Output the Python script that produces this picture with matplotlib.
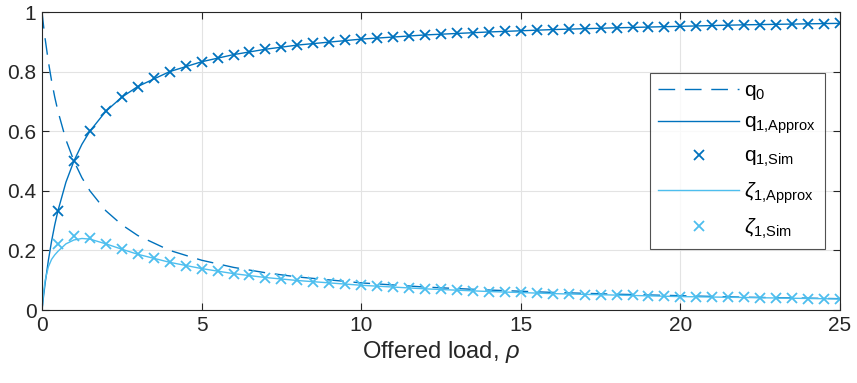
import numpy as np
import matplotlib.pyplot as plt

plt.rcParams['font.family'] = 'Liberation Sans'
plt.rcParams['mathtext.fontset'] = 'custom'
plt.rcParams['mathtext.rm'] = 'Liberation Sans'
plt.rcParams['mathtext.it'] = 'Liberation Sans:italic'

# analytic curves (dense near zero)
rho_curve = [0, 0.05, 0.1, 0.2, 0.3, 0.4, 0.5, 0.75, 1, 1.25, 1.5, 2, 2.5, 3, 4,
             5, 6, 7, 8, 10, 12, 14, 16, 18, 20, 22, 25]
q0 = [1, 0.952, 0.909, 0.833, 0.769, 0.714, 0.667, 0.571, 0.5, 0.444, 0.4, 0.333,
      0.286, 0.25, 0.2, 0.167, 0.143, 0.125, 0.111, 0.091, 0.077, 0.067, 0.059,
      0.053, 0.048, 0.043, 0.038]
q1_approx = [0, 0.048, 0.091, 0.167, 0.231, 0.286, 0.333, 0.429, 0.5, 0.556, 0.6,
             0.667, 0.714, 0.75, 0.8, 0.833, 0.857, 0.875, 0.889, 0.909, 0.923,
             0.933, 0.941, 0.947, 0.952, 0.957, 0.962]
zeta1_approx = [0, 0.06, 0.10, 0.145, 0.17, 0.185, 0.197, 0.222, 0.235, 0.24, 0.238,
                0.222, 0.204, 0.187, 0.16, 0.139, 0.122, 0.109, 0.099, 0.083, 0.071,
                0.062, 0.055, 0.05, 0.045, 0.042, 0.037]

# simulation results
rho_sim = np.arange(0.5, 25.01, 0.5)
q1_sim = [0.333, 0.5, 0.6, 0.667, 0.714, 0.75, 0.778, 0.8, 0.818, 0.833,
          0.846, 0.857, 0.867, 0.875, 0.882, 0.889, 0.895, 0.9, 0.905, 0.909,
          0.913, 0.917, 0.92, 0.923, 0.926, 0.929, 0.931, 0.933, 0.935, 0.9375,
          0.939, 0.941, 0.943, 0.944, 0.946, 0.947, 0.949, 0.95, 0.951, 0.952,
          0.953, 0.955, 0.956, 0.957, 0.957, 0.958, 0.959, 0.96, 0.961, 0.962]
zeta1_sim = [0.222, 0.25, 0.24, 0.222, 0.204, 0.1875, 0.173, 0.16, 0.149, 0.139,
             0.13, 0.122, 0.116, 0.109, 0.104, 0.099, 0.094, 0.09, 0.086, 0.083,
             0.079, 0.076, 0.074, 0.071, 0.069, 0.066, 0.064, 0.062, 0.06, 0.059,
             0.057, 0.055, 0.054, 0.052, 0.051, 0.05, 0.049, 0.0475, 0.046, 0.045,
             0.044, 0.043, 0.042, 0.042, 0.041, 0.04, 0.039, 0.038, 0.038, 0.037]

dark = '#0072BD'
light = '#4DBEEE'
ink = '#262626'

fig = plt.figure(figsize=(8.57, 3.83), dpi=100)
ax = fig.add_axes([42 / 857, 1 - 310 / 383, 798 / 857, 298 / 383])

ax.plot(rho_curve, q0, '--', color=dark, lw=1, dashes=(12, 7), label=r'$\mathrm{q}_{\mathrm{0}}$')
ax.plot(rho_curve, q1_approx, '-', color=dark, lw=1, label=r'$\mathrm{q}_{\mathrm{1{,}Approx}}$')
ax.plot(rho_sim, q1_sim, 'x', color=dark, ms=7.5, mew=1.3, ls='none', label=r'$\mathrm{q}_{\mathrm{1{,}Sim}}$')
ax.plot(rho_curve, zeta1_approx, '-', color=light, lw=1, label=r'$\zeta_{\mathrm{1{,}Approx}}$')
ax.plot(rho_sim, zeta1_sim, 'x', color=light, ms=7.5, mew=1.3, ls='none', label=r'$\zeta_{\mathrm{1{,}Sim}}$')

ax.set_xlim(0, 25)
ax.set_ylim(0, 1)
ax.set_xticks([0, 5, 10, 15, 20, 25])
ax.set_yticks([0, 0.2, 0.4, 0.6, 0.8, 1])
ax.set_yticklabels(['0', '0.2', '0.4', '0.6', '0.8', '1'])
ax.grid(True, color='#e3e3e3', lw=0.8)
ax.set_axisbelow(True)
ax.tick_params(direction='in', top=True, right=True, labelsize=15, length=5,
               width=0.8, colors=ink, pad=4)
for s in ax.spines.values():
    s.set_color(ink)
    s.set_linewidth(0.8)
ax.set_xlabel(r'Offered load, $\rho$', fontsize=17, color=ink, labelpad=3)

leg = ax.legend(loc='center right', bbox_to_anchor=(0.981, 0.50), borderaxespad=0,
                fontsize=15, frameon=True, fancybox=False, edgecolor=ink,
                handlelength=3.9, labelspacing=0.52, borderpad=0.4,
                handletextpad=0.25)
leg.get_frame().set_linewidth(0.8)

fig.savefig('out.png', dpi=100)
